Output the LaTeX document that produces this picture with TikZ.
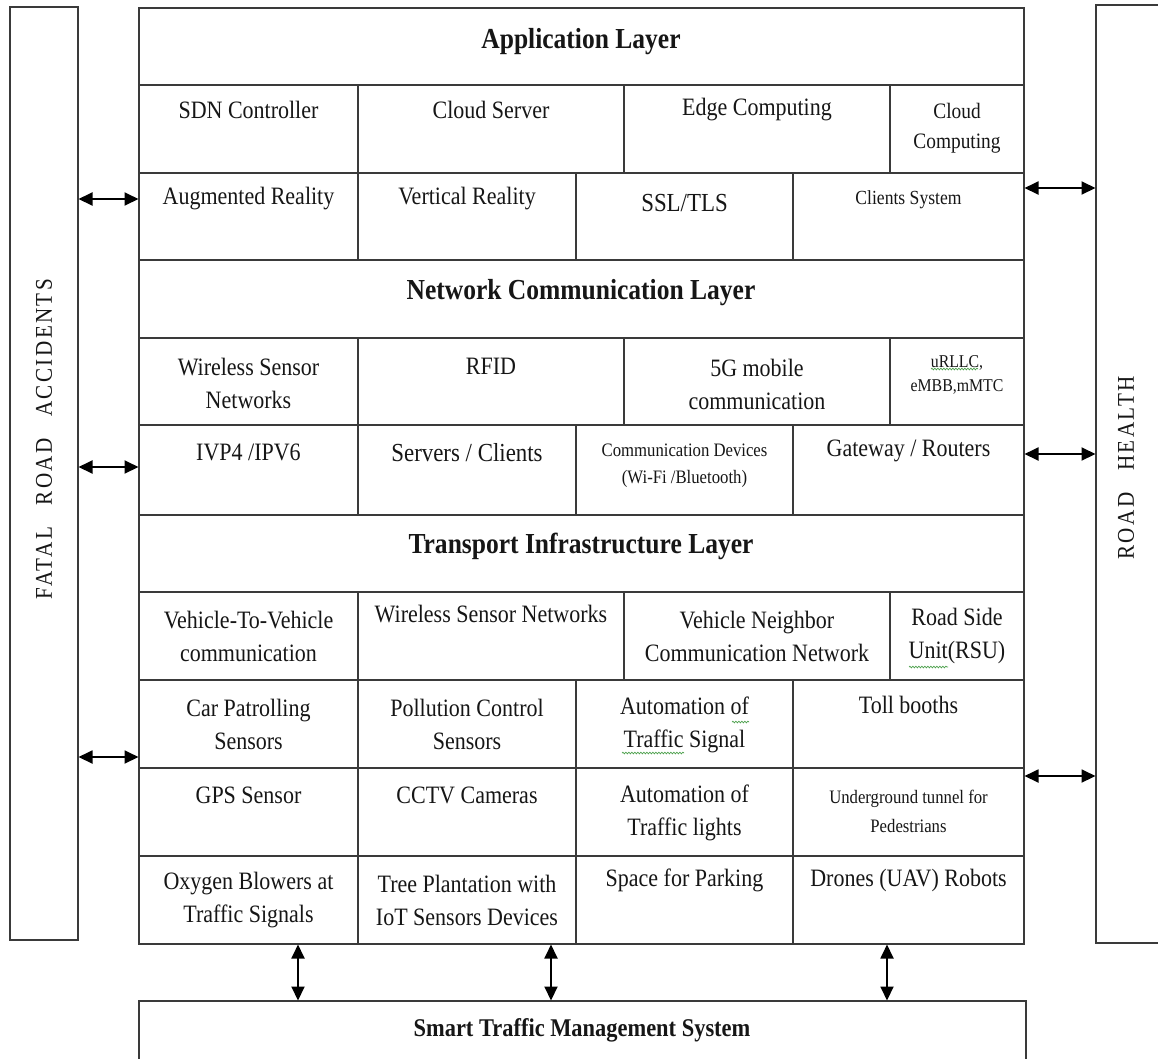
\documentclass[tikz,border=0pt]{standalone}
\usepackage{fontspec}
\setmainfont{Liberation Serif}[FakeStretch=0.88]
\usetikzlibrary{arrows.meta,decorations.pathmorphing}
\definecolor{ln}{HTML}{3A3A3A}
\definecolor{tx}{HTML}{161616}
\definecolor{sq}{HTML}{4CA04C}
\newcommand{\fs}[2]{\fontsize{#1}{#2}\selectfont}
\tikzset{
  box/.style={draw=ln, line width=1.8pt, inner sep=0pt, outer sep=0pt, anchor=north west},
  grid/.style={draw=ln, line width=1.8pt},
  txt/.style={text=tx, align=center, inner sep=0pt, font=\fs{25}{33}},
  ttl/.style={text=tx, align=center, inner sep=0pt, font=\fs{29}{34}\bfseries},
  dbl/.style={line width=1.9pt, draw=black, {Triangle[length=14pt,width=13pt]}-{Triangle[length=14pt,width=13pt]}, shorten <=0.5pt, shorten >=0.5pt},
  squig/.style={draw=sq, line width=0.7pt, decorate, decoration={snake, amplitude=0.8pt, segment length=3pt}},
  side/.style={text=tx, inner sep=0pt, rotate=90, font=\fs{24}{28}\addfontfeature{LetterSpace=10}}
}
\begin{document}
\begin{tikzpicture}[x=1pt,y=-1pt]
\useasboundingbox (0,0) rectangle (1158,1058);
\fill[white] (0,0) rectangle (1158,1058);
% side boxes
\node[box, minimum width=68pt, minimum height=933pt] (leftbox) at (10,7) {};
\draw[grid] (1165,5) -- (1096,5) -- (1096,943) -- (1165,943);
\coordinate (rightedge) at (1096,474);
% main box
\node[box, minimum width=885pt, minimum height=936pt] (main) at (139,8) {};
% bottom box
\draw[grid] (139,1065) -- (139,1001) -- (1026,1001) -- (1026,1065);
\coordinate (bottomtop) at (582,1001);
% horizontal rules
\foreach \y in {85,173,260,338,425,515,592,680,768,856}
  \draw[grid] (139,\y) -- (1024,\y);
% vertical dividers
\foreach \a/\b in {85/173,338/425,592/680} {
  \draw[grid] (358,\a) -- (358,\b);
  \draw[grid] (624,\a) -- (624,\b);
  \draw[grid] (890,\a) -- (890,\b);
}
\foreach \a/\b in {173/260,425/515,680/944} {
  \draw[grid] (358,\a) -- (358,\b);
  \draw[grid] (576,\a) -- (576,\b);
  \draw[grid] (793,\a) -- (793,\b);
}
% Application layer
\node[ttl] (appl) at (581,42) {Application Layer};
\node[txt] (sdn) at (248.5,110) {SDN Controller};
\node[txt] (cserv) at (491,110) {Cloud Server};
\node[txt] (edge) at (757,110) {Edge Computing};
\node[txt, font=\fs{22}{30}] (ccomp) at (957,128) {Cloud\\Computing};
\node[txt] (ar) at (248.5,199) {Augmented Reality};
\node[txt] (vr) at (467,199) {Vertical Reality};
\node[txt, font=\fs{26}{30}] (ssl) at (684.5,203) {SSL/TLS};
\node[txt, font=\fs{20}{24}] (clsys) at (908.5,200) {Clients System};
% Network layer
\node[ttl] (netl) at (581,293) {Network Communication Layer};
\node[txt] (wsn) at (248.5,383) {Wireless Sensor\\Networks};
\node[txt] (rfid) at (491,366) {RFID};
\node[txt] (fiveg) at (757,384) {5G mobile\\communication};
\node[txt, font=\fs{18}{24}] (urllc) at (957,375) {uRLLC,\\eMBB,mMTC};
\node[txt] (ipv) at (248.5,452) {IVP4 /IPV6};
\node[txt, font=\fs{26}{30}] (srv) at (467,453) {Servers / Clients};
\node[txt, font=\fs{19}{27}] (cdev) at (684.5,466) {Communication Devices\\(Wi-Fi /Bluetooth)};
\node[txt, font=\fs{25}{30}] (gw) at (908.5,451) {Gateway / Routers};
% Transport layer
\node[ttl] (trl) at (581,546) {Transport Infrastructure Layer};
\node[txt] (v2v) at (248.5,636) {Vehicle-To-Vehicle\\communication};
\node[txt] (wsn2) at (491,614) {Wireless Sensor Networks};
\node[txt] (vnc) at (757,636) {Vehicle Neighbor\\Communication Network};
\node[txt] (rsu) at (957,636) {Road Side\\Unit(RSU)};
\node[txt] (car) at (248.5,724) {Car Patrolling\\Sensors};
\node[txt] (poll) at (467,724) {Pollution Control\\Sensors};
\node[txt] (ats) at (684.5,725) {Automation of\\Traffic Signal};
\node[txt] (toll) at (908.5,705) {Toll booths};
\node[txt] (gps) at (248.5,795) {GPS Sensor};
\node[txt] (cctv) at (467,795) {CCTV Cameras};
\node[txt] (atl) at (684.5,813) {Automation of\\Traffic lights};
\node[txt, font=\fs{19}{29}] (tun) at (908.5,811) {Underground tunnel for\\Pedestrians};
\node[txt] (oxy) at (248.5,900) {Oxygen Blowers at\\Traffic Signals};
\node[txt] (tree) at (467,900) {Tree Plantation with\\IoT Sensors Devices};
\node[txt] (park) at (684.5,880) {Space for Parking};
\node[txt] (drone) at (908.5,880) {Drones (UAV) Robots};
% bottom text
\node[text=tx, inner sep=0pt, font=\fs{25.5}{30}\bfseries] (stms) at (582,1030) {Smart Traffic Management System};
% side texts
\node[side] (fatal) at (44,439) {FATAL\hspace{14pt} ROAD\hspace{14pt} ACCIDENTS};
\node[side] (health) at (1126,468) {ROAD\hspace{14pt} HEALTH};
% spell-check squiggles
\draw[squig] (931,369) -- (978,369);
\draw[squig] (732,722) -- (749,722);
\draw[squig] (622,753) -- (684,753);
\draw[squig] (909,667) -- (948,667);
% left arrows
\coordinate (l1) at (0,199);
\coordinate (l2) at (0,467);
\coordinate (l3) at (0,757);
\draw[dbl] (leftbox.east |- l1) -- (main.west |- l1);
\draw[dbl] (leftbox.east |- l2) -- (main.west |- l2);
\draw[dbl] (leftbox.east |- l3) -- (main.west |- l3);
% right arrows
\coordinate (r1) at (0,188);
\coordinate (r2) at (0,454);
\coordinate (r3) at (0,776);
\draw[dbl] (main.east |- r1) -- (rightedge |- r1);
\draw[dbl] (main.east |- r2) -- (rightedge |- r2);
\draw[dbl] (main.east |- r3) -- (rightedge |- r3);
% bottom arrows
\coordinate (b1) at (298,0);
\coordinate (b2) at (551,0);
\coordinate (b3) at (887,0);
\draw[dbl] (main.south -| b1) -- (bottomtop -| b1);
\draw[dbl] (main.south -| b2) -- (bottomtop -| b2);
\draw[dbl] (main.south -| b3) -- (bottomtop -| b3);
\end{tikzpicture}
\end{document}
